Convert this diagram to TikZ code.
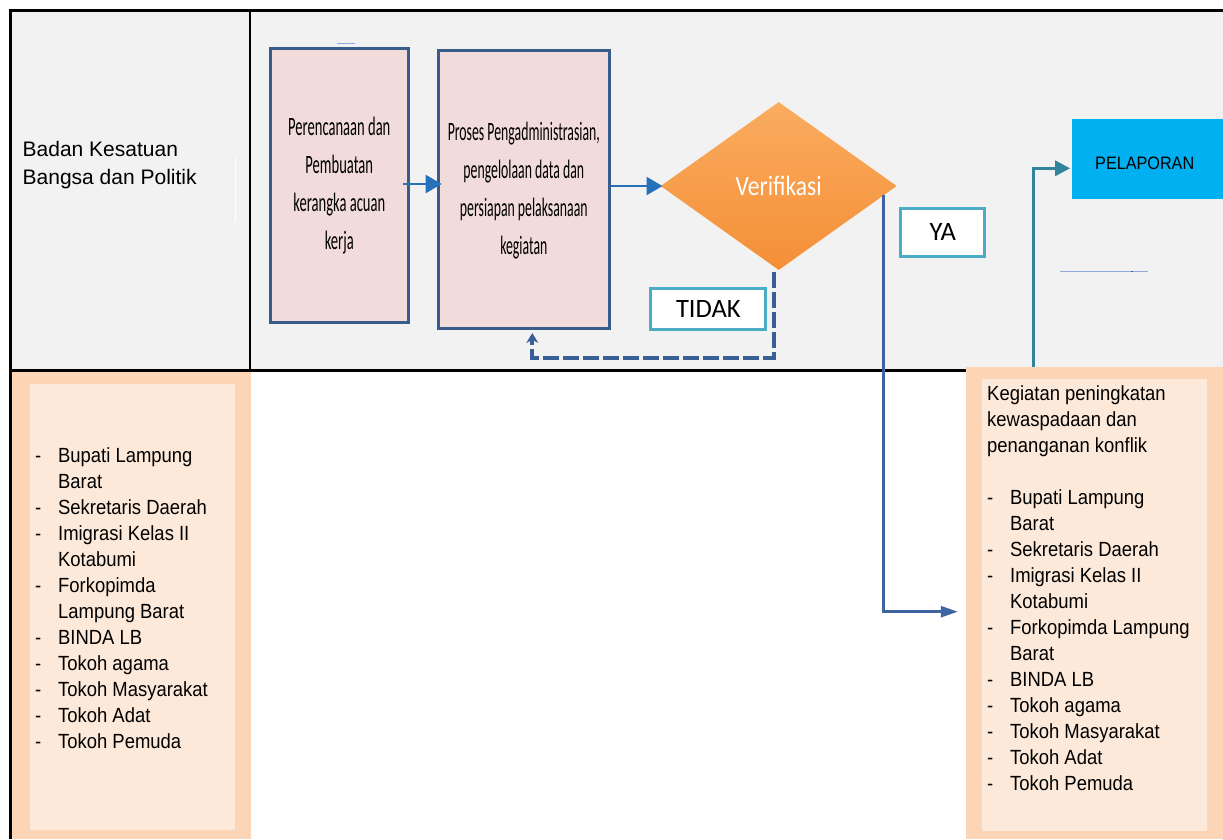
\documentclass[tikz,border=0pt]{standalone}
\usepackage{fontspec}
\usepackage{graphicx}
\setmainfont{Liberation Sans}
\newfontfamily\calibfont{Carlito}
\usetikzlibrary{arrows.meta,shapes.geometric,calc}
\definecolor{graybg}{RGB}{242,242,242}
\definecolor{procfill}{RGB}{242,220,219}
\definecolor{procdraw}{RGB}{56,93,138}
\definecolor{arrowblue}{RGB}{38,114,186}
\definecolor{dashblue}{RGB}{58,94,150}
\definecolor{lblborder}{RGB}{75,172,198}
\definecolor{yablue}{RGB}{62,101,160}
\definecolor{cyanbox}{RGB}{0,176,240}
\definecolor{tealarr}{RGB}{49,132,155}
\definecolor{orangeout}{RGB}{251,213,181}
\definecolor{orangein}{RGB}{253,233,217}
\definecolor{orangetop}{RGB}{250,172,95}
\definecolor{orangebot}{RGB}{244,143,55}
\definecolor{thinblue}{RGB}{143,170,220}
\begin{document}
\begin{tikzpicture}[x=1pt,y=-1pt,
  procbox/.style={draw=procdraw, line width=3pt, fill=procfill, inner sep=0pt,
    font=\calibfont\fontsize{26.5}{38}\selectfont},
  lblbox/.style={draw=lblborder, line width=3pt, fill=white, inner sep=0pt,
    font=\calibfont\fontsize{26.5}{30}\selectfont},
  listtext/.style={inner sep=0pt, anchor=base west, font=\fontsize{20.5}{26}\selectfont},
  bluearrow/.style={draw=arrowblue, line width=2.5pt, -{Triangle[length=16pt,width=18pt]}},
  yaline/.style={draw=yablue, line width=2.5pt, -{Triangle[length=17pt,width=11pt]}},
  tealarrow/.style={draw=tealarr, line width=3pt, -{Triangle[length=15pt,width=15pt]}},
  dashline/.style={draw=dashblue, line width=4pt, dash pattern=on 16pt off 4pt, -{Stealth[length=10pt,width=12pt]}},
  tablerule/.style={draw=black, line width=3pt}
]
\useasboundingbox (0,0) rectangle (1223,839);
\fill[white] (0,0) rectangle (1223,839);
\fill[graybg] (10,10) rectangle (1223,370);

% table rules
\draw[tablerule] (10,839) -- (10,10) -- (1223,10);
\draw[tablerule] (10,370) -- (1223,370);
\draw[draw=black, line width=2pt] (250,10) -- (250,370);
\draw[white, line width=0.8pt] (235.5,158) -- (235.5,222);

% row label
\node[inner sep=0pt, anchor=base west, font=\fontsize{21}{28.5}\selectfont] (org) at (22.5,156)
  {\begin{tabular}[t]{@{}l@{}}Badan Kesatuan\\Bangsa dan Politik\end{tabular}};

% left participant box
\node[fill=orangeout, inner sep=0pt, minimum width=238.5pt, minimum height=467pt] (lbox) at (131.25,605.5) {};
\fill[orangein] (30,384) rectangle (235,830);
\node[listtext] (llist) at (35,462) {\scalebox{0.9}[1]{\begin{tabular}[t]{@{}l@{}}
\makebox[25.5pt][l]{-}Bupati Lampung\\
\hspace*{25.5pt}Barat\\
\makebox[25.5pt][l]{-}Sekretaris Daerah\\
\makebox[25.5pt][l]{-}Imigrasi Kelas II\\
\hspace*{25.5pt}Kotabumi\\
\makebox[25.5pt][l]{-}Forkopimda\\
\hspace*{25.5pt}Lampung Barat\\
\makebox[25.5pt][l]{-}BINDA LB\\
\makebox[25.5pt][l]{-}Tokoh agama\\
\makebox[25.5pt][l]{-}Tokoh Masyarakat\\
\makebox[25.5pt][l]{-}Tokoh Adat\\
\makebox[25.5pt][l]{-}Tokoh Pemuda
\end{tabular}}};

% right activity box
\node[fill=orangeout, inner sep=0pt, minimum width=257pt, minimum height=472.3pt] (rbox) at (1094.5,602.85) {};
\fill[orangein] (982.3,379.3) rectangle (1206.7,830.7);
\node[listtext] (rlist) at (987,400) {\scalebox{0.9}[1]{\begin{tabular}[t]{@{}l@{}}
Kegiatan peningkatan\\
kewaspadaan dan\\
penanganan konflik\\
\\
\makebox[25.5pt][l]{-}Bupati Lampung\\
\hspace*{25.5pt}Barat\\
\makebox[25.5pt][l]{-}Sekretaris Daerah\\
\makebox[25.5pt][l]{-}Imigrasi Kelas II\\
\hspace*{25.5pt}Kotabumi\\
\makebox[25.5pt][l]{-}Forkopimda Lampung\\
\hspace*{25.5pt}Barat\\
\makebox[25.5pt][l]{-}BINDA LB\\
\makebox[25.5pt][l]{-}Tokoh agama\\
\makebox[25.5pt][l]{-}Tokoh Masyarakat\\
\makebox[25.5pt][l]{-}Tokoh Adat\\
\makebox[25.5pt][l]{-}Tokoh Pemuda
\end{tabular}}};

% process boxes
\draw[thinblue, line width=0.7pt] (337,43) -- (355,43);
\node[procbox, minimum width=138.3pt, minimum height=274.3pt] (b1) at (339.3,185.3)
  {\scalebox{0.55}[1]{\begin{tabular}{c}Perencanaan dan\\Pembuatan\\kerangka acuan\\kerja\end{tabular}}};
\node[procbox, minimum width=171.3pt, minimum height=278pt] (b2) at (523.8,189.5)
  {\scalebox{0.52}[1]{\begin{tabular}{c}Proses Pengadministrasian,\\pengelolaan data dan\\persiapan pelaksanaan\\kegiatan\end{tabular}}};

% decision
\node[shape=diamond, draw=none, top color=orangetop, bottom color=orangebot, inner sep=0pt,
  minimum width=236pt, minimum height=168pt, text=white,
  font=\calibfont\fontsize{28}{30}\selectfont] (verif) at (778.7,186) {\scalebox{0.84}[1]{Verifikasi}};

% labels
\node[lblbox, minimum width=115pt, minimum height=41pt] (tidak) at (708.3,308.7) {TIDAK};
\node[lblbox, minimum width=84pt, minimum height=48pt] (ya) at (942.7,232.2) {YA};

% report
\node[fill=cyanbox, inner sep=0pt, minimum width=150.7pt, minimum height=80.3pt,
  label={[font=\fontsize{18}{20}\selectfont, xshift=-3pt, yshift=-4pt]center:\scalebox{0.9}[1]{PELAPORAN}}]
  (lapor) at (1147.7,159.2) {};

% small stray line
\coordinate (sl1) at (1060,271.7);
\coordinate (sl2) at (1147.7,271.7);
\draw[thinblue, line width=1.5pt] (sl1) -- (sl2);
\draw[dashblue, line width=1.5pt] ($(sl2)+(-16.7,0)$) -- ($(sl2)+(-14.7,0)$);

% connectors
\draw[bluearrow] ($(b1.east)+(-7,-1.3)$) -- ($(b2.west)+(5,-5.5)$);
\draw[bluearrow] ($(b2.east)+(0,-3.5)$) -- ($(verif.west)+(2,0)$);
\draw[dashline] ($(verif.south)+(-4.7,2)$) -- ($(verif.south)+(-4.7,87.3)$) -| ($(b2.south)+(8.5,3)$);
\draw[yaline] ($(verif.east)+(-13.4,9)$) |- ($(rbox.west)+(-8,8.85)$);
\draw[tealarrow] ($(rbox.north west)+(67.7,0)$) |- ($(lapor.west)+(-2,9.1)$);
\end{tikzpicture}
\end{document}
